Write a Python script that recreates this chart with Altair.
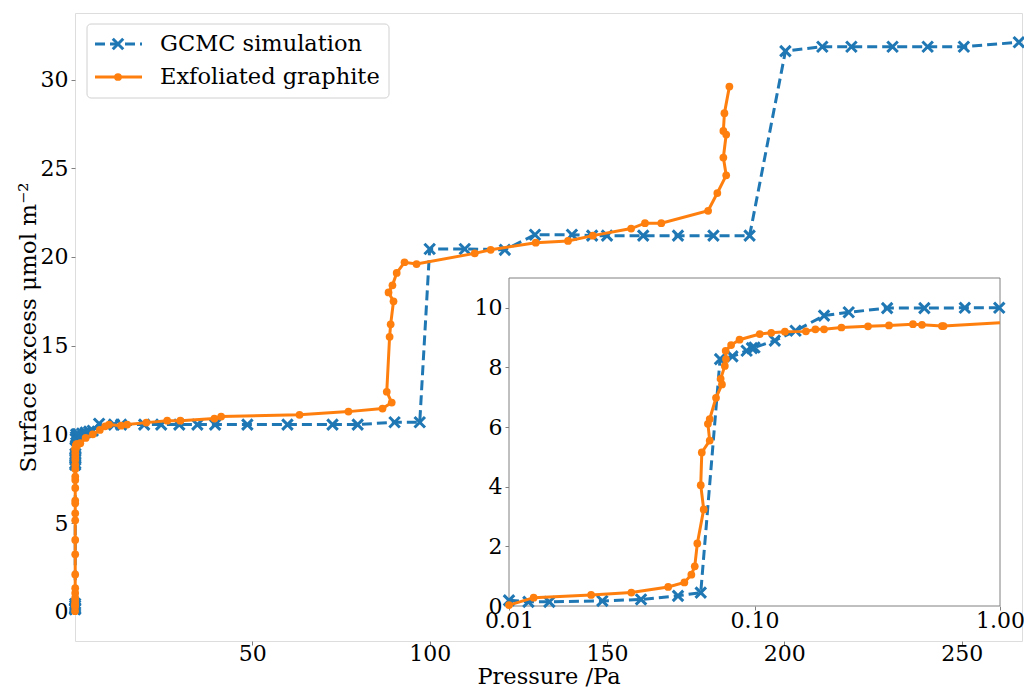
import altair as alt
import pandas as pd

# ---------------- data ----------------
series_names = ["GCMC simulation", "Exfoliated graphite"]

# low-pressure part (shown in the log inset and at the start of the main plot)
gcmc_low_p = [0.01, 0.012, 0.0146, 0.024, 0.0345, 0.0488, 0.0604, 0.0724, 0.0813, 0.0929,
              0.0976, 0.100, 0.121, 0.147, 0.192, 0.242, 0.347, 0.492, 0.719, 0.993]
gcmc_low_s = [0.19, 0.14, 0.14, 0.17, 0.22, 0.34, 0.45, 8.28, 8.37, 8.56,
              8.65, 8.67, 8.90, 9.23, 9.74, 9.85, 9.99, 9.99, 10.0, 10.0]

exfo_low_p = [0.01, 0.0126, 0.0216, 0.0315, 0.0445, 0.0518, 0.0553, 0.0571, 0.0585, 0.0621,
              0.0604, 0.0610, 0.0657, 0.0646, 0.0657, 0.0697, 0.0737, 0.0728, 0.0757, 0.0765,
              0.0763, 0.0803, 0.0869, 0.105, 0.117, 0.133, 0.162, 0.177, 0.192, 0.226,
              0.290, 0.353, 0.442, 0.481, 0.580, 0.589]
exfo_low_s = [0.03, 0.28, 0.37, 0.45, 0.64, 0.79, 1.05, 1.33, 2.10, 3.24,
              4.05, 5.15, 5.55, 6.11, 6.27, 6.98, 7.43, 7.62, 8.05, 8.28,
              8.56, 8.75, 8.93, 9.12, 9.16, 9.20, 9.21, 9.28, 9.28, 9.34,
              9.38, 9.41, 9.45, 9.43, 9.39, 9.39]

# higher-pressure part (main plot)
gcmc_high_p = [2.0, 3.0, 4.0, 5.0, 6.8, 11.0, 13.0, 19.5, 24.3, 29.4, 34.5, 39.5, 48.6, 59.9,
               72.6, 79.7, 90.1, 97.2, 100.0, 109.9, 121.2, 129.7, 140.1, 145.8, 150.0, 160.2,
               170.0, 180.0, 190.2, 200.3, 210.7, 218.9, 230.5, 240.4, 250.6, 266.1]
gcmc_high_s = [10.05, 10.1, 10.15, 10.2, 10.6, 10.55, 10.55, 10.55, 10.55, 10.55, 10.55, 10.55,
               10.55, 10.55, 10.55, 10.55, 10.68, 10.68, 20.45, 20.45, 20.4, 21.25, 21.25, 21.2,
               21.2, 21.2, 21.2, 21.2, 21.2, 31.6, 31.85, 31.85, 31.85, 31.85, 31.85, 32.1]

exfo_high_p = [1.5, 3.0, 5.0, 7.0, 8.5, 9.6, 13.0, 14.7, 20.1, 26.0, 29.7, 39.3, 41.2, 63.3,
               77.1, 86.7, 89.3, 87.9, 88.7, 89.0, 89.8, 88.4, 89.5, 90.7, 92.9, 96.3, 112.7,
               117.2, 129.9, 139.0, 146.0, 156.8, 160.7, 165.3, 178.5, 181.1, 183.6, 182.8,
               183.6, 182.8, 183.1, 184.5]
exfo_high_s = [9.5, 9.8, 10.0, 10.25, 10.45, 10.55, 10.49, 10.55, 10.66, 10.77, 10.77, 10.89,
               11.0, 11.1, 11.28, 11.45, 11.79, 12.4, 15.5, 16.2, 17.5, 18.0, 18.4, 19.1, 19.7,
               19.6, 20.2, 20.4, 20.8, 20.9, 21.2, 21.6, 21.9, 21.9, 22.6, 23.6, 24.6, 25.6,
               26.9, 27.1, 28.1, 29.6]

main_x_ticks = [50, 100, 150, 200, 250]
main_y_ticks = [0, 5, 10, 15, 20, 25, 30]
inset_x_ticks = [0.01, 0.1, 1.0]
inset_y_ticks = [0, 2, 4, 6, 8, 10]
inset_x_lim = [0.01, 1.0]
inset_y_lim = [0, 11]

# ---------------- styling ----------------
BLUE = "#1f77b4"
ORANGE = "#ff7f0e"
GREY = "#808080"
FONT = "DejaVu Serif"
W, H = 947, 628
X_PATH = "M-1,-1L1,1M-1,1L1,-1"


def frame(p, s):
    return pd.DataFrame({"p": p, "s": s, "idx": list(range(len(p)))})


gcmc = frame(gcmc_low_p + gcmc_high_p, gcmc_low_s + gcmc_high_s)
exfo = frame(exfo_low_p + exfo_high_p, exfo_low_s + exfo_high_s)


def inset_line_df(df):
    first_out = df.index[df.p > inset_x_lim[1]][0]
    return df.loc[:first_out]


def inset_pts_df(df):
    return df[(df.p >= inset_x_lim[0]) & (df.p <= inset_x_lim[1])]


common_axis = dict(grid=False, domain=False, tickSize=4, tickColor=GREY, tickWidth=1,
                   labelFontSize=22, labelColor="black", labelFont=FONT,
                   titleFont=FONT, titleFontWeight="normal", titleColor="black")

xs_main = alt.Scale(domain=[0, 267], nice=False, zero=False)
ys_main = alt.Scale(domain=[-1.65, 33.75], nice=False, zero=False)
xa_main = alt.Axis(values=main_x_ticks, title="Pressure /Pa", titlePadding=1, labelPadding=-2,
                   titleFontSize=22.5, **common_axis)
ya_main = alt.Axis(values=main_y_ticks, title="Surface excess μmol m⁻²", titlePadding=0,
                   labelPadding=3, titleFontSize=23, **common_axis)

xs_in = alt.Scale(type="log", domain=inset_x_lim, range=[434, 925], nice=False, clamp=True)
ys_in = alt.Scale(domain=inset_y_lim, range=[593, 265], nice=False, zero=False, clamp=True)
xa_in = alt.Axis(values=inset_x_ticks, format=".2f", title=None, orient="bottom", offset=-35,
                 labelFlush=False, labelOverlap=False, labelPadding=0, **common_axis)
ya_in = alt.Axis(values=inset_y_ticks, title=None, orient="left", offset=-434,
                 labelOverlap=False, labelPadding=3, **common_axis)


def series(df_line, df_pts, xs, ys, xa, ya, color, dashed, circle):
    x = alt.X("p:Q", scale=xs, axis=xa)
    y = alt.Y("s:Q", scale=ys, axis=ya)
    line_kw = dict(color=color, strokeWidth=3)
    if dashed:
        line_kw["strokeDash"] = [10, 5]
    line = alt.Chart(df_line).mark_line(**line_kw).encode(x=x, y=y, order="idx:Q")
    if circle:
        pts = alt.Chart(df_pts).mark_point(shape="circle", filled=True, size=60, color=color,
                                            opacity=1).encode(x=x, y=y)
    else:
        pts = alt.Chart(df_pts).mark_point(shape=X_PATH, filled=False, size=110, color=color,
                                            strokeWidth=3, opacity=1).encode(x=x, y=y)
    return [line, pts]


main = alt.layer(*(series(gcmc, gcmc, xs_main, ys_main, xa_main, ya_main, BLUE, True, False)
                   + series(exfo, exfo, xs_main, ys_main, xa_main, ya_main, ORANGE, False, True)))

inset_box = pd.DataFrame({"x0": [inset_x_lim[0]], "x1": [inset_x_lim[1]],
                          "y0": [inset_y_lim[0]], "y1": [inset_y_lim[1]]})
box = alt.Chart(inset_box).mark_rect(fill="white", stroke=GREY, strokeWidth=1).encode(
    x=alt.X("x0:Q", scale=xs_in, axis=xa_in), x2="x1:Q",
    y=alt.Y("y0:Q", scale=ys_in, axis=ya_in), y2="y1:Q")

inset = alt.layer(box,
                  *(series(inset_line_df(gcmc), inset_pts_df(gcmc), xs_in, ys_in, xa_in, ya_in,
                           BLUE, True, False)
                    + series(inset_line_df(exfo), inset_pts_df(exfo), xs_in, ys_in, xa_in, ya_in,
                             ORANGE, False, True)))

# ---------------- legend (drawn as decoration, matplotlib style) ----------------
one = pd.DataFrame({"a": [0]})
leg_box = alt.Chart(one).mark_rect(fill="white", fillOpacity=0.8, stroke="#d0d0d0",
                                   strokeWidth=1, cornerRadius=4).encode(
    x=alt.value(12), x2=alt.value(314), y=alt.value(11), y2=alt.value(85))


def legend_entry(label, ypix, color, dashed, circle):
    d = pd.DataFrame({"label": [label]})
    kw = dict(color=color, strokeWidth=3)
    if dashed:
        kw["strokeDash"] = [10, 5]
    rule = alt.Chart(d).mark_rule(**kw).encode(x=alt.value(20), x2=alt.value(67),
                                               y=alt.value(ypix))
    if circle:
        mk = alt.Chart(d).mark_point(shape="circle", filled=True, size=60, color=color,
                                     opacity=1)
    else:
        mk = alt.Chart(d).mark_point(shape=X_PATH, filled=False, size=110, color=color,
                                     strokeWidth=3, opacity=1)
    mk = mk.encode(x=alt.value(43), y=alt.value(ypix))
    txt = alt.Chart(d).mark_text(align="left", baseline="middle", font=FONT, fontSize=22.5,
                                 color="black").encode(
        x=alt.value(85), y=alt.value(ypix), text="label:N")
    return [rule, mk, txt]


legend = alt.layer(leg_box,
                   *(legend_entry(series_names[0], 31, BLUE, True, False)
                     + legend_entry(series_names[1], 64, ORANGE, False, True)))

chart = alt.layer(main, inset, legend).resolve_scale(
    x="independent", y="independent"
).properties(
    width=W, height=H,
    autosize=alt.AutoSizeParams(type="none"),
    padding={"left": 75, "top": 13, "right": 2, "bottom": 50},
).configure_view(stroke=GREY, strokeWidth=1).configure(background="white")

chart.save("out.html", embed_options={"renderer": "svg", "actions": False})
